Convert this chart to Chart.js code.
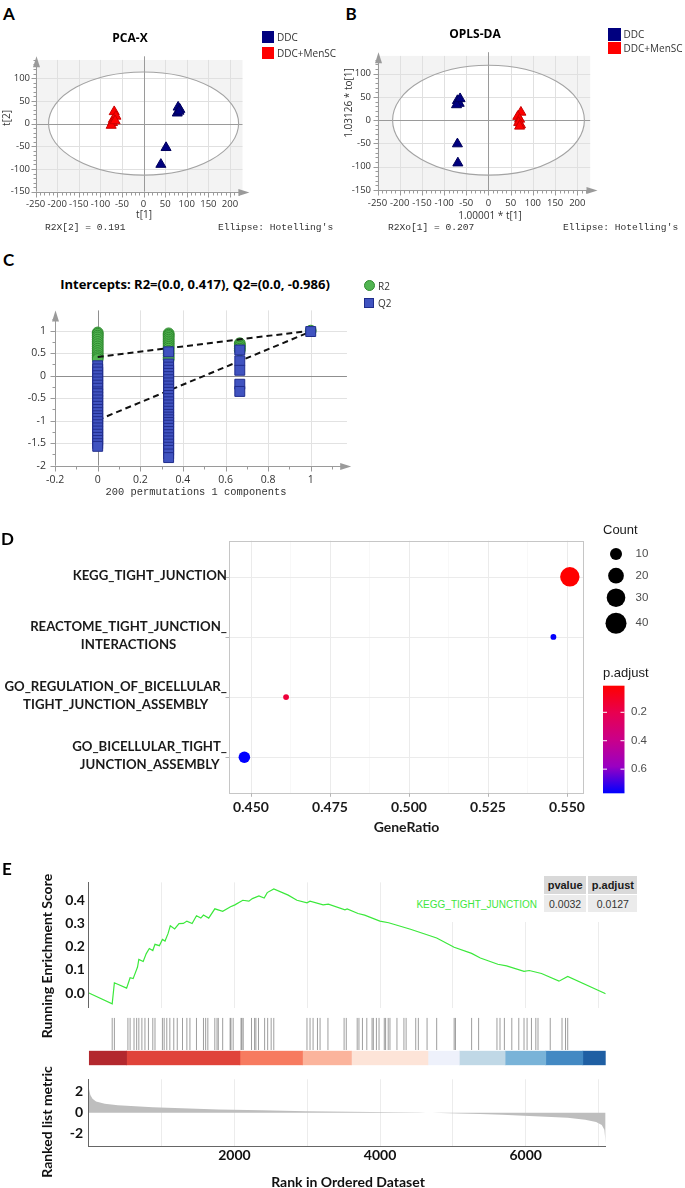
<!DOCTYPE html>
<html>
<head>
<meta charset="utf-8">
<script src="https://cdn.jsdelivr.net/npm/chart.js@4.4.1/dist/chart.umd.min.js"></script>
<style>
html,body{margin:0;padding:0;background:#fff;}
#fig{position:relative;width:685px;height:1188px;overflow:hidden;background:#fff;}
#fig canvas{position:absolute;}
.t{position:absolute;white-space:nowrap;line-height:1;}
.box{position:absolute;}
</style>
</head>
<body>
<div id="fig"></div>
<script>
// ======================= DATA =======================
// Panel A : PCA-X score plot (t[1], t[2])
const pcaDDC_t1 = [80, 84, 78, 82, 52, 40];
const pcaDDC_t2 = [36, 31, 23, 27, -53, -90];
const pcaMen_t1 = [-68, -64, -70, -72, -75, -66];
const pcaMen_t2 = [26, 16, 9, 2, -4, 6];
const pcaEllipse = [220, 113.5];
// Panel B : OPLS-DA score plot (t[1], to[1])
const oplsDDC_t = [-70, -66, -72, -64, -70, -69];
const oplsDDC_to = [42, 36, 33, 46, -51, -92];
const oplsMen_t = [73, 66, 70, 68, 72, 70];
const oplsMen_to = [17, 8, 2, -5, -10, -13];
const oplsEllipse = [216, 118];
const scoreXTicks = [-250, -200, -150, -100, -50, 0, 50, 100, 150, 200];
const scoreYTicks = [-150, -100, -50, 0, 50, 100];
// Panel C : permutation test
const permCorr = [0, 0.333, 0.667, 1];
const permR2 = [
  [0.96, 0.93, 0.89, 0.85, 0.8, 0.75, 0.7, 0.65, 0.6, 0.55, 0.5, 0.45, 0.41, 0.37],
  [0.94, 0.91, 0.88, 0.84, 0.8, 0.76, 0.72, 0.68, 0.64, 0.6, 0.55, 0.5, 0.45, 0.4, 0.36],
  [0.72, 0.68, 0.64, 0.6, 0.56],
  [1.0]
];
const permQ2 = [
  [0.22, 0.15, 0.08, 0.0, -0.07, -0.14, -0.21, -0.28, -0.36, -0.4, -0.47, -0.54, -0.61, -0.68, -0.75, -0.82, -0.89, -0.95, -1.02, -1.09, -1.16, -1.23, -1.3, -1.37, -1.44, -1.51, -1.57],
  [0.53, 0.26, 0.19, 0.12, 0.05, -0.02, -0.09, -0.16, -0.23, -0.3, -0.37, -0.44, -0.51, -0.58, -0.65, -0.72, -0.79, -0.86, -0.92, -0.98, -1.04, -1.1, -1.17, -1.24, -1.31, -1.38, -1.45, -1.52, -1.59, -1.66, -1.74, -1.82],
  [0.57, 0.33, 0.12, -0.19, -0.35],
  [0.98]
];
const r2Intercept = [0.417, 1.0];   // regression line at corr 0 and 1
const q2Intercept = [-0.986, 0.98];
const permXTicks = [-0.2, 0, 0.2, 0.4, 0.6, 0.8, 1];
const permYTicks = [-2, -1.5, -1, -0.5, 0, 0.5, 1];
// Panel D : enrichment dot plot
const termLabels = [
  ["KEGG_TIGHT_JUNCTION"],
  ["REACTOME_TIGHT_JUNCTION_", "INTERACTIONS"],
  ["GO_REGULATION_OF_BICELLULAR_", "TIGHT_JUNCTION_ASSEMBLY"],
  ["GO_BICELLULAR_TIGHT_", "JUNCTION_ASSEMBLY"]
];
const geneRatio = [0.5509, 0.5457, 0.4611, 0.4479];
const geneCount = [33, 1, 1, 9];
const pAdjust = [0.0127, 0.765, 0.15, 0.77];
const ratioTicks = [0.450, 0.475, 0.500, 0.525, 0.550];
const countBreaks = [10, 20, 30, 40];
const padjBreaks = [0.2, 0.4, 0.6];
// Panel E : GSEA plot
const esCurve = [[0,0],[320,-0.047],[350,0.044],[518,0.021],[566,0.066],[608,0.062],[668,0.112],[686,0.145],[746,0.136],[788,0.170],[830,0.192],[878,0.183],[908,0.210],[968,0.204],[1010,0.231],[1046,0.224],[1088,0.257],[1118,0.290],[1178,0.276],[1238,0.299],[1298,0.300],[1346,0.310],[1418,0.300],[1478,0.333],[1538,0.323],[1574,0.336],[1646,0.323],[1730,0.363],[1838,0.352],[1946,0.372],[2006,0.380],[2114,0.400],[2198,0.396],[2246,0.407],[2336,0.419],[2408,0.410],[2450,0.433],[2540,0.449],[2738,0.422],[2858,0.400],[2996,0.389],[3038,0.396],[3218,0.380],[3290,0.383],[3518,0.359],[3548,0.363],[3698,0.343],[3788,0.336],[3998,0.310],[4118,0.303],[4418,0.275],[4778,0.237],[5018,0.197],[5258,0.171],[5378,0.151],[5618,0.124],[5738,0.117],[5978,0.093],[6050,0.097],[6218,0.084],[6458,0.051],[6578,0.071],[7100,-0.003]];
const hitRanks = [320,350,536,566,620,656,686,728,770,818,878,908,1010,1034,1070,1112,1166,1214,1286,1346,1388,1478,1574,1604,1634,1730,1760,1778,1838,1940,1952,1982,2090,2102,2120,2234,2276,2294,2330,2414,2456,2504,2540,2996,3038,3080,3140,3176,3284,3506,3536,3686,3710,3758,3818,3890,3908,3950,3986,4058,4076,4112,4136,4232,4328,4358,4490,4526,4646,4778,5018,5036,5258,5354,5606,5648,5708,5810,5906,5978,6020,6080,6140,6170,6338,6500,6548,6578];
const bandEdges = [0, 518, 2075, 2935, 3607, 4658, 5089, 5718, 6277, 6786, 7100];
const metricCurve = [[1,2.3],[20,1.7],[50,1.35],[98,1.08],[218,0.86],[398,0.72],[578,0.64],[878,0.53],[1178,0.45],[1778,0.31],[2378,0.23],[2978,0.15],[3578,0.09],[4178,0.04],[4538,0.01],[4628,0],[4718,-0.01],[5078,-0.07],[5378,-0.12],[5678,-0.2],[5978,-0.29],[6278,-0.4],[6578,-0.5],[6818,-0.69],[6968,-0.91],[7046,-1.18],[7082,-1.65],[7100,-3.0]];
const rankGrid = [1000, 2000, 3000, 4000, 5000, 6000, 7000];
const esTicks = [0, 0.1, 0.2, 0.3, 0.4];
const metricTicks = [-2, 0, 2];
const tableHeader = ["pvalue", "p.adjust"];
const tableRow = ["KEGG_TIGHT_JUNCTION", "0.0032", "0.0127"];

// ======================= STYLES =======================
const bandColors = ['#b3282e','#e0433a','#f77b60','#fbb49c','#fde4d8','#eef1fb','#c0d8e6','#79b3d8','#4389c3','#1f5fa3'];
const padjStops = [[0,[255,0,0]],[0.25,[232,0,80]],[0.5,[202,0,137]],[0.75,[154,0,194]],[1,[0,0,255]]];

// ======================= HELPERS =======================
const FIG = document.getElementById('fig');
function mkCanvas(rect){ const [x,y,w,h]=rect; const c=document.createElement('canvas'); c.width=w; c.height=h;
  c.style.left=x+'px'; c.style.top=y+'px'; c.style.width=w+'px'; c.style.height=h+'px'; FIG.appendChild(c); return c; }
function fit(rect, area){ const [cx,cy,cw,ch]=rect, [L,T,R,B]=area;
  return {padding:{left:0,top:T-cy,right:cx+cw-R,bottom:0}, yw:L-cx, xh:cy+ch-B}; }
function base(f, extra){ return {responsive:false, animation:false, events:[],
  layout:{padding:f.padding, autoPadding:false},
  plugins:Object.assign({legend:{display:false}, tooltip:{enabled:false}}, extra||{})}; }
const fixTicks = arr => s => { s.ticks = arr.map(v=>({value:v})); };
function txt(s, x, y, font, color, ax, ay, rot){
  const d=document.createElement('div'); d.className='t'; d.textContent=s;
  d.style.left=x+'px'; d.style.top=y+'px'; d.style.font=font; d.style.color=color||'#000';
  ax = ax===undefined?0.5:ax; ay = ay===undefined?0.5:ay;
  d.style.transform=`translate(${-ax*100}%,${-ay*100}%)`+(rot?` rotate(${rot}deg)`:'');
  FIG.appendChild(d); return d; }
function box(x,y,w,h,bg,extra){ const d=document.createElement('div'); d.className='box';
  d.style.left=x+'px'; d.style.top=y+'px'; d.style.width=w+'px'; d.style.height=h+'px'; d.style.background=bg;
  if(extra) Object.assign(d.style, extra); FIG.appendChild(d); return d; }
const zip = (xs, ys) => xs.map((x,i)=>({x, y:ys[i]}));
function linAxis(min,max,ticks,f,isX,pad,font,color,fmt){
  return {type:'linear', min, max,
    afterFit: isX ? (s=>{s.height=f.xh;}) : (s=>{s.width=f.yw;}),
    afterBuildTicks: fixTicks(ticks),
    grid:{display:false, drawTicks:false}, border:{display:false},
    ticks:{autoSkip:false, maxRotation:0, minRotation:0, padding:pad, color:color||'#333', font, callback: fmt || (v=>String(v))}};
}
function hiddenAxis(min,max,f,isX,type){
  const a = {display:true, grid:{display:false, drawTicks:false}, border:{display:false}, ticks:{display:false},
    afterFit: isX ? (s=>{s.height=f.xh;}) : (s=>{s.width=f.yw;})};
  if (type) a.type = type; else { a.type='linear'; a.min=min; a.max=max; }
  return a;
}

// SIMCA-style axes/grid/ellipse plugin
const simcaPlugin = {
  id:'simca',
  beforeDatasetsDraw(chart, args, o){
    const ctx=chart.ctx, xs=chart.scales.x, ys=chart.scales.y;
    const X=v=>xs.getPixelForValue(v), Y=v=>ys.getPixelForValue(v);
    const ln=(a,b,c,d)=>{ctx.beginPath();ctx.moveTo(a,b);ctx.lineTo(c,d);ctx.stroke();};
    const sn=v=>Math.round(v)+0.5;
    ctx.save();
    const L=X(xs.min), R=X(o.gridRight), T=Y(o.gridTop), B=Y(ys.min), top=Y(ys.max), right=X(xs.max);
    if(o.bg){ ctx.fillStyle=o.bg; ctx.fillRect(L,T,R-L,B-T); }
    if(o.ellipse){ ctx.beginPath(); ctx.ellipse(X(0),Y(0),X(o.ellipse[0])-X(0),Y(0)-Y(o.ellipse[1]),0,0,2*Math.PI); ctx.fillStyle='#fff'; ctx.fill(); }
    ctx.lineWidth=1; ctx.strokeStyle=o.gridColor;
    o.gridX.forEach(v=>{ if(v!==0 && v!==xs.min) ln(sn(X(v)),o.gridFull?top:T,sn(X(v)),B); });
    o.gridY.forEach(v=>{ if(v!==0 && v!==ys.min) ln(L,sn(Y(v)),R,sn(Y(v))); });
    ctx.strokeStyle=o.zeroColor;
    ln(sn(X(0)),top,sn(X(0)),B);
    ln(L,sn(Y(0)),R,sn(Y(0)));
    if(o.ellipse){ ctx.beginPath(); ctx.ellipse(X(0),Y(0),X(o.ellipse[0])-X(0),Y(0)-Y(o.ellipse[1]),0,0,2*Math.PI); ctx.strokeStyle=o.ellipseColor; ctx.lineWidth=1.1; ctx.stroke(); ctx.lineWidth=1; }
    // axes with arrows
    ctx.strokeStyle=o.axisColor; ctx.fillStyle=o.axisColor;
    const ay=sn(B), ax=sn(L);
    ln(L,ay,right-9,ay);
    ctx.beginPath(); ctx.moveTo(right,ay); ctx.lineTo(right-11,ay-3.5); ctx.lineTo(right-11,ay+3.5); ctx.closePath(); ctx.fill();
    ln(ax,B,ax,top+9);
    ctx.beginPath(); ctx.moveTo(ax,top); ctx.lineTo(ax-3.5,top+11); ctx.lineTo(ax+3.5,top+11); ctx.closePath(); ctx.fill();
    // ruler ticks
    const isMaj=(arr,v)=>arr.some(g=>Math.abs(g-v)<1e-6);
    for(let k=0;;k++){ const v=xs.min+k*o.minorX; if(v>o.gridRight+1e-9) break; ln(sn(X(v)),ay,sn(X(v)),ay+(isMaj(o.gridX,v)?5:3)); }
    for(let k=0;;k++){ const v=ys.min+k*o.minorY; if(v>o.gridTop+1e-9) break; ln(ax,sn(Y(v)),ax-(isMaj(o.gridY,v)?5:3),sn(Y(v))); }
    ctx.restore();
  }
};
const tri=(xs,ys,bg,bd)=>({data:zip(xs,ys), pointStyle:'triangle', pointRadius:5.8, pointBackgroundColor:bg, pointBorderColor:bd, pointBorderWidth:1});
const sFont = {family:"'Open Sans'", size:9.5};

// ======================= PANEL A =======================
const rectA=[0,45,265,177], areaA=[35.6,53.8,249.4,191.7], fA=fit(rectA,areaA);
new Chart(mkCanvas(rectA), {
  type:'scatter',
  data:{datasets:[tri(pcaDDC_t1,pcaDDC_t2,'#00007f','#00005c'), tri(pcaMen_t1,pcaMen_t2,'#ff0000','#c80000')]},
  options:Object.assign(base(fA,{simca:{bg:'#f3f3f3', gridRight:229, gridTop:140, ellipse:pcaEllipse, gridX:scoreXTicks, gridY:scoreYTicks,
      gridColor:'#e0e0e0', zeroColor:'#9a9a9a', ellipseColor:'#a3a3a3', axisColor:'#9a9a9a', minorX:10, minorY:10}}),
    {scales:{x:linAxis(-250,245,scoreXTicks,fA,true,6.5,sFont), y:linAxis(-150,148,scoreYTicks,fA,false,5.6,sFont)}}),
  plugins:[simcaPlugin]
});

// ======================= PANEL B =======================
const rectB=[340,40,275,180], areaB=[377.5,49.9,597.5,190], fB=fit(rectB,areaB);
new Chart(mkCanvas(rectB), {
  type:'scatter',
  data:{datasets:[tri(oplsDDC_t,oplsDDC_to,'#00007f','#00005c'), tri(oplsMen_t,oplsMen_to,'#ff0000','#c80000')]},
  options:Object.assign(base(fB,{simca:{bg:'#f3f3f3', gridRight:229, gridTop:138, ellipse:oplsEllipse, gridX:scoreXTicks, gridY:scoreYTicks,
      gridColor:'#e0e0e0', zeroColor:'#9a9a9a', ellipseColor:'#a3a3a3', axisColor:'#9a9a9a', minorX:10, minorY:10}}),
    {scales:{x:linAxis(-250,245.5,scoreXTicks,fB,true,7.5,sFont), y:linAxis(-150,146,scoreYTicks,fB,false,6.5,sFont)}}),
  plugins:[simcaPlugin]
});

// ======================= PANEL C =======================
const rectC=[0,295,360,200], areaC=[55.1,304.7,351.2,465.7], fC=fit(rectC,areaC);
const r2Pts=[], q2Pts=[];
permCorr.forEach((c,i)=>{ permR2[i].forEach(v=>r2Pts.push({x:c,y:v})); permQ2[i].forEach(v=>q2Pts.push({x:c,y:v})); });
const cFont={family:"'Open Sans'", size:10.5};
new Chart(mkCanvas(rectC), {
  type:'scatter',
  data:{datasets:[
    {data:q2Pts, order:0, pointStyle:'rect', pointRadius:7, pointBackgroundColor:'#4053c0', pointBorderColor:'#202d8c', pointBorderWidth:1},
    {data:[{x:permCorr[0],y:r2Intercept[0]},{x:permCorr[3],y:r2Intercept[1]}], order:1, showLine:true, pointRadius:0, borderColor:'#111', borderWidth:2, borderDash:[6,4]},
    {data:[{x:permCorr[0],y:q2Intercept[0]},{x:permCorr[3],y:q2Intercept[1]}], order:1, showLine:true, pointRadius:0, borderColor:'#111', borderWidth:2, borderDash:[6,4]},
    {data:r2Pts, order:2, pointStyle:'circle', pointRadius:5.4, pointBackgroundColor:'#52b552', pointBorderColor:'#2f8a2f', pointBorderWidth:1}
  ]},
  options:Object.assign(base(fC,{simca:{bg:null, gridRight:1.17, gridTop:1.45, gridFull:true, ellipse:null, gridX:permXTicks, gridY:permYTicks,
      gridColor:'#e2e2e2', zeroColor:'#8f8f8f', axisColor:'#9a9a9a', minorX:0.1, minorY:0.25}}),
    {scales:{x:linAxis(-0.2,1.19,permXTicks,fC,true,8,cFont), y:linAxis(-2,1.45,permYTicks,fC,false,9.1,cFont)}}),
  plugins:[simcaPlugin]
});

// ======================= PANEL D =======================
const pMin=Math.min(...pAdjust), pMax=Math.max(...pAdjust);
function padjColor(p){ const t=Math.max(0,Math.min(1,(p-pMin)/(pMax-pMin)));
  for(let i=0;i<padjStops.length-1;i++){ const [t0,c0]=padjStops[i],[t1,c1]=padjStops[i+1];
    if(t<=t1){ const f=(t-t0)/(t1-t0); const c=c0.map((v,k)=>Math.round(v+(c1[k]-v)*f)); return `rgb(${c[0]},${c[1]},${c[2]})`; } }
  return 'rgb(0,0,255)'; }
const countRadius = c => 1.5 + 1.425*Math.sqrt(c);
const rectD=[0,520,685,320], areaD=[229,540.7,584,793.3], fD=fit(rectD,areaD);
const nTerms = termLabels.length;
const ggPlugin = {
  id:'gg',
  beforeDatasetsDraw(chart,args,o){
    const ctx=chart.ctx, xs=chart.scales.x, ys=chart.scales.y, ca=chart.chartArea;
    const ln=(a,b,c,d)=>{ctx.beginPath();ctx.moveTo(a,b);ctx.lineTo(c,d);ctx.stroke();};
    const sn=v=>Math.round(v)+0.5;
    ctx.save();
    ctx.lineWidth=0.6; ctx.strokeStyle='#f3f3f3';
    for(let i=0;i<ratioTicks.length-1;i++){ const px=xs.getPixelForValue((ratioTicks[i]+ratioTicks[i+1])/2); ln(px,ca.top,px,ca.bottom); }
    ctx.lineWidth=1; ctx.strokeStyle='#ebebeb';
    ratioTicks.forEach(v=>{ const px=sn(xs.getPixelForValue(v)); ln(px,ca.top,px,ca.bottom); });
    termLabels.forEach((t,i)=>{ const py=sn(ys.getPixelForValue(nTerms-i)); ln(ca.left,py,ca.right,py); });
    ctx.strokeStyle='#c6c6c6';
    ctx.strokeRect(sn(ca.left),sn(ca.top),Math.round(ca.right-ca.left)-1,Math.round(ca.bottom-ca.top)-1);
    ctx.strokeStyle='#b5b5b5';
    ratioTicks.forEach(v=>{ const px=sn(xs.getPixelForValue(v)); ln(px,ca.bottom,px,ca.bottom+3.5); });
    termLabels.forEach((t,i)=>{ const py=sn(ys.getPixelForValue(nTerms-i)); ln(ca.left-3.5,py,ca.left,py); });
    ctx.restore();
  },
  afterDraw(chart,args,o){
    const ctx=chart.ctx, ys=chart.scales.y, oy=o.oy;
    ctx.save();
    ctx.font="bold 13.2px Lato"; ctx.fillStyle='#1a1a1a'; ctx.textAlign='center'; ctx.textBaseline='middle';
    termLabels.forEach((lines,i)=>{
      const py=ys.getPixelForValue(nTerms-i)+o.labelDy;
      const w=Math.max(...lines.map(s=>ctx.measureText(s).width));
      const cx=o.labelRight-w/2;
      lines.forEach((s,j)=>ctx.fillText(s,cx,py+(j-(lines.length-1)/2)*o.lineH));
    });
    // size legend
    ctx.textAlign='left';
    ctx.font="13px 'Liberation Sans'"; ctx.fillStyle='#1a1a1a';
    ctx.fillText('Count',603,530.7-oy);
    countBreaks.forEach((c,i)=>{
      ctx.beginPath(); ctx.arc(616,o.countY[i]-oy,countRadius(c),0,2*Math.PI); ctx.fillStyle='#000'; ctx.fill();
      ctx.fillStyle='#4d4d4d'; ctx.font="11.5px 'Liberation Sans'"; ctx.fillText(String(c),635.5,o.countY[i]-oy);
    });
    // colour bar
    ctx.font="13px 'Liberation Sans'"; ctx.fillStyle='#1a1a1a';
    ctx.fillText('p.adjust',603,673-oy);
    const bt=685.7-oy, bb=793.3-oy, bl=603, br=624.5;
    const g=ctx.createLinearGradient(0,bt,0,bb);
    padjStops.forEach(([t,c])=>g.addColorStop(t,`rgb(${c[0]},${c[1]},${c[2]})`));
    ctx.fillStyle=g; ctx.fillRect(bl,bt,br-bl,bb-bt);
    ctx.strokeStyle='#fff'; ctx.lineWidth=1;
    ctx.font="11.5px 'Liberation Sans'";
    padjBreaks.forEach(v=>{
      const py=bt+(v-pMin)/(pMax-pMin)*(bb-bt);
      ctx.beginPath(); ctx.moveTo(bl,py); ctx.lineTo(bl+4,py); ctx.moveTo(br-4,py); ctx.lineTo(br,py); ctx.stroke();
      ctx.fillStyle='#4d4d4d'; ctx.fillText(String(v),631,py);
    });
    ctx.restore();
  }
};
new Chart(mkCanvas(rectD), {
  type:'scatter',
  data:{datasets:[{data:geneRatio.map((g,i)=>({x:g,y:nTerms-i})),
    pointRadius:geneCount.map(countRadius), pointBackgroundColor:pAdjust.map(padjColor), pointBorderWidth:0, pointStyle:'circle'}]},
  options:Object.assign(base(fD,{gg:{oy:520, labelRight:227, labelDy:-1.5, lineH:18, countY:[554,575.7,597.7,623.3]}}),
    {scales:{x:linAxis(0.44304,0.55538,ratioTicks,fD,true,5.3,{family:'Lato',size:14,weight:'bold'},'#1a1a1a',v=>v.toFixed(3)),
             y:hiddenAxis(0.4,4.6,fD,false)}}),
  plugins:[ggPlugin]
});

// ======================= PANEL E =======================
const eFont={family:'Lato',size:14,weight:'bold'};
// running enrichment score
const rectE1=[0,870,685,150], areaE1=[88.9,880,605.7,1015], fE1=fit(rectE1,areaE1);
new Chart(mkCanvas(rectE1), {
  type:'scatter',
  data:{datasets:[{data:esCurve.map(([x,y])=>({x,y})), showLine:true, pointRadius:0, borderColor:'#3be83b', borderWidth:1.2, tension:0}]},
  options:Object.assign(base(fE1),{scales:{
    x:{type:'linear',min:0,max:7100,afterFit:s=>{s.height=fE1.xh;},afterBuildTicks:fixTicks(rankGrid),
       grid:{display:true,color:'#ececec',drawTicks:false},border:{display:false},ticks:{display:false}},
    y:Object.assign(linAxis(-0.063,0.477,esTicks,fE1,false,4,eFont,'#111',v=>v.toFixed(1)),{border:{display:true,color:'#666',width:1}})
  }})
});
// gene hits
const rectE2=[0,1012,685,43], areaE2=[88.9,1017.7,605.7,1050], fE2=fit(rectE2,areaE2);
new Chart(mkCanvas(rectE2), {
  type:'scatter',
  data:{datasets:[{data:hitRanks.map(r=>({x:r,y:0.5})), pointStyle:'line', pointRotation:90, pointRadius:16.15,
    pointBorderColor:'rgba(40,40,40,0.45)', pointBorderWidth:1}]},
  options:Object.assign(base(fE2),{scales:{x:hiddenAxis(0,7100,fE2,true), y:hiddenAxis(0,1,fE2,false)}})
});
// colour band of ranked list
const rectE3=[0,1047,685,22], areaE3=[88.9,1050.7,605.7,1065.3], fE3=fit(rectE3,areaE3);
new Chart(mkCanvas(rectE3), {
  type:'bar',
  data:{labels:[''], datasets:bandColors.map((c,i)=>({data:[[bandEdges[i],bandEdges[i+1]]], backgroundColor:c, borderWidth:0,
    grouped:false, barPercentage:1, categoryPercentage:1}))},
  options:Object.assign(base(fE3),{indexAxis:'y', scales:{x:hiddenAxis(0,7100,fE3,true), y:hiddenAxis(0,0,fE3,false,'category')}})
});
// ranked list metric
const rectE4=[0,1065,685,123], areaE4=[88.9,1067,605.7,1146.7], fE4=fit(rectE4,areaE4);
new Chart(mkCanvas(rectE4), {
  type:'scatter',
  data:{datasets:[{data:metricCurve.map(([x,y])=>({x,y})), showLine:true, pointRadius:0, borderWidth:0, borderColor:'rgba(0,0,0,0)',
    backgroundColor:'#bebebe', fill:'origin', tension:0}]},
  options:Object.assign(base(fE4),{scales:{
    x:Object.assign(linAxis(0,7100,rankGrid,fE4,true,0.6,eFont,'#111',v=>(v%2000===0?String(v):'')),
       {grid:{display:true,color:'#ececec',drawTicks:false},border:{display:true,color:'#666',width:1}}),
    y:Object.assign(linAxis(-3.28,3.22,metricTicks,fE4,false,5.9,eFont,'#111'),{border:{display:true,color:'#666',width:1}})
  }})
});

// ======================= TEXT (HTML) =======================
const LETTER="bold 17px Lato";
txt('A',9,12.5,LETTER); txt('B',351,12.5,LETTER); txt('C',8.5,259,LETTER); txt('D',7.5,538,LETTER); txt('E',7,867.5,LETTER);
// A
txt('PCA-X',130,37,"bold 12px 'Open Sans'");
box(261.7,30.7,12.3,12,'#00007f'); box(261.7,47.3,12.3,12,'#ff0000');
txt('DDC',277,36.7,"10px 'Open Sans'",'#333',0); txt('DDC+MenSC',277,53.3,"10px 'Open Sans'",'#333',0);
txt('t[2]',6,118,"10px 'Open Sans'",'#333',0.5,0.5,-90);
txt('t[1]',144,214,"10px 'Open Sans'",'#333');
txt('R2X[2] = 0.191',45,227,"9.6px 'Liberation Mono'",'#333',0);
txt("Ellipse: Hotelling's",218,227,"9.6px 'Liberation Mono'",'#333',0);
// B
txt('OPLS-DA',475,33,"bold 12px 'Open Sans'");
box(608.3,28.3,12.4,12.6,'#00007f'); box(608.3,41.9,12.4,12.6,'#ff0000');
txt('DDC',623.5,33.5,"10px 'Open Sans'",'#333',0); txt('DDC+MenSC',623.5,48.3,"10px 'Open Sans'",'#333',0);
txt('1.03126 * to[1]',348.3,103,"10px 'Open Sans'",'#333',0.5,0.5,-90);
txt('1.00001 * t[1]',490,214.5,"10px 'Open Sans'",'#333');
txt('R2Xo[1] = 0.207',388,227,"9.6px 'Liberation Mono'",'#333',0);
txt("Ellipse: Hotelling's",563,227,"9.6px 'Liberation Mono'",'#333',0);
// C
txt('Intercepts: R2=(0.0, 0.417), Q2=(0.0, -0.986)',195,283.5,"bold 13px 'Open Sans'");
box(363.5,280,11,11,'#52b552',{borderRadius:'50%',boxSizing:'border-box',border:'1px solid #2f8a2f'});
box(364,298.3,10,10,'#4053c0',{boxSizing:'border-box',border:'1px solid #202d8c'});
txt('R2',378,285.5,"10px 'Open Sans'",'#333',0); txt('Q2',378,303.3,"10px 'Open Sans'",'#333',0);
txt('200 permutations 1 components',196,492,"10.4px 'Liberation Mono'",'#333');
// D
txt('GeneRatio',406.5,826,"bold 14px Lato",'#1a1a1a');
// E
box(412,871,230,51,'#fff');
box(543.7,876,42.8,18,'#d9d9d9'); box(588.2,876,49.3,18,'#d9d9d9');
box(543.7,895.3,42.8,16.4,'#ebebeb'); box(588.2,895.3,49.3,16.4,'#ebebeb');
txt(tableHeader[0],565.1,885.2,"bold 11px 'Liberation Sans'",'#1a1a1a'); txt(tableHeader[1],612.85,885.2,"bold 11px 'Liberation Sans'",'#1a1a1a');
txt(tableRow[0],537,903.7,"10px 'Liberation Sans'",'#3ee63e',1);
txt(tableRow[1],565.1,903.7,"10.5px 'Liberation Sans'",'#333'); txt(tableRow[2],612.85,903.7,"10.5px 'Liberation Sans'",'#333');
txt('Running Enrichment Score',46,956,"bold 14px Lato",'#111',0.5,0.5,-90);
txt('Ranked list metric',46,1121.5,"bold 14px Lato",'#111',0.5,0.5,-90);
txt('Rank in Ordered Dataset',348,1180.7,"bold 14px Lato",'#111');
</script>
</body>
</html>
